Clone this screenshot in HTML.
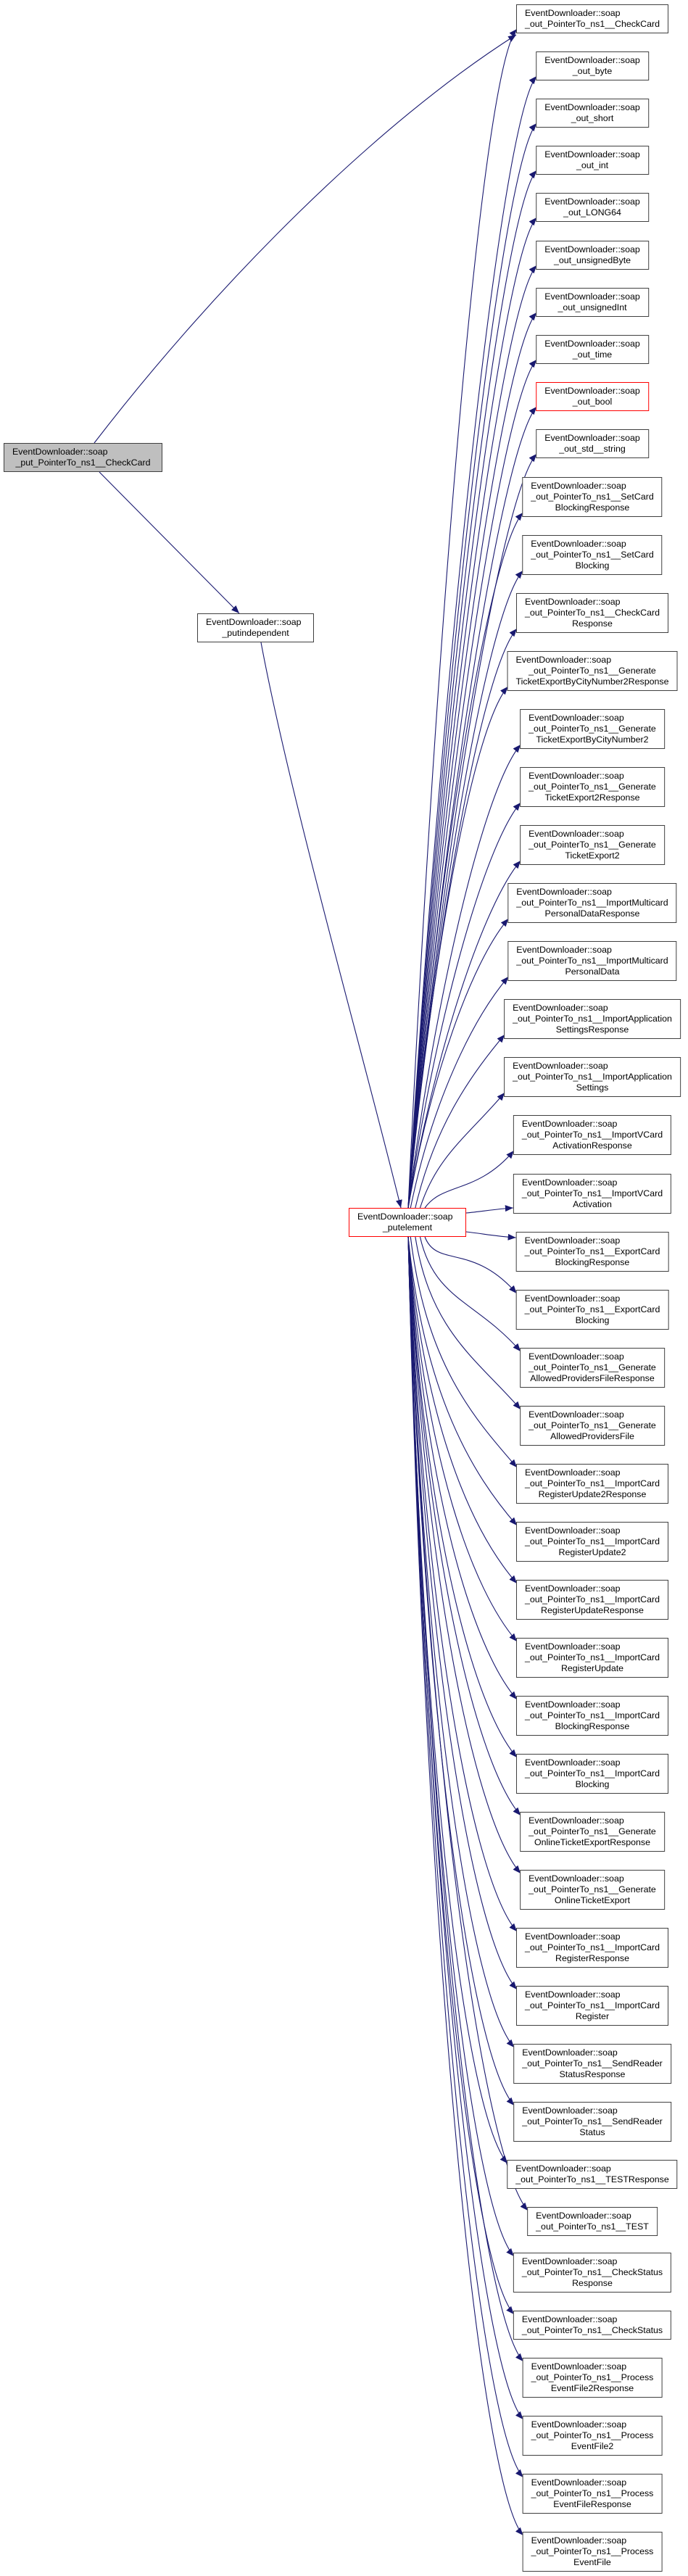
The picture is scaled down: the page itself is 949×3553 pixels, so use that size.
<!DOCTYPE html>
<html><head><meta charset="utf-8">
<style>
html,body{margin:0;padding:0;background:#fff;}
body{width:949px;height:3553px;position:relative;overflow:hidden;font-family:"Liberation Sans",Arial,sans-serif;}
.n{position:absolute;box-sizing:border-box;border:1px solid #404040;background:#fff;font-size:12.4px;line-height:15px;padding:4px 11px;text-align:center;white-space:nowrap;color:#000;display:inline-block;}
.n span{display:block;}
.n span.l{text-align:left;}
.r{left:817px;transform:translateX(-50%);}
.h2{height:40px;}.h3{height:55px;}
.red{border-color:#ff0000;}
.gray{background:#bfbfbf;}
svg{position:absolute;left:0;top:0;}
</style></head><body>
<svg id="sv" width="949" height="3553" viewBox="0 0 949 3553">
<defs><marker id="ar" markerUnits="userSpaceOnUse" markerWidth="12" markerHeight="10" refX="11" refY="4.5" orient="auto"><path d="M0,0 L11,4.5 L0,9 Z" fill="#191970"/></marker></defs>
<g id="eg" fill="none" stroke="#191970" stroke-width="1.1"></g>
</svg>

<div class="n gray h2" id="src" style="left:5px;top:611px;width:219px"><span class="l">EventDownloader::soap</span><span>_put_PointerTo_ns1__CheckCard</span></div>
<div class="n h2" id="pi" style="left:272px;top:846px;width:161px"><span class="l">EventDownloader::soap</span><span>_putindependent</span></div>
<div class="n h2 red" id="pe" style="left:481px;top:1666px;width:162px"><span class="l">EventDownloader::soap</span><span>_putelement</span></div>

<div class="n r h2 t" style="top:6px"><span class="l">EventDownloader::soap</span><span>_out_PointerTo_ns1__CheckCard</span></div>
<div class="n r h2 t" style="top:71px"><span class="l">EventDownloader::soap</span><span>_out_byte</span></div>
<div class="n r h2 t" style="top:136px"><span class="l">EventDownloader::soap</span><span>_out_short</span></div>
<div class="n r h2 t" style="top:201px"><span class="l">EventDownloader::soap</span><span>_out_int</span></div>
<div class="n r h2 t" style="top:266px"><span class="l">EventDownloader::soap</span><span>_out_LONG64</span></div>
<div class="n r h2 t" style="top:332px"><span class="l">EventDownloader::soap</span><span>_out_unsignedByte</span></div>
<div class="n r h2 t" style="top:397px"><span class="l">EventDownloader::soap</span><span>_out_unsignedInt</span></div>
<div class="n r h2 t" style="top:462px"><span class="l">EventDownloader::soap</span><span>_out_time</span></div>
<div class="n r h2 t red" style="top:527px"><span class="l">EventDownloader::soap</span><span>_out_bool</span></div>
<div class="n r h2 t" style="top:592px"><span class="l">EventDownloader::soap</span><span>_out_std__string</span></div>
<div class="n r h3 t" style="top:658px"><span class="l">EventDownloader::soap</span><span>_out_PointerTo_ns1__SetCard</span><span>BlockingResponse</span></div>
<div class="n r h3 t" style="top:738px"><span class="l">EventDownloader::soap</span><span>_out_PointerTo_ns1__SetCard</span><span>Blocking</span></div>
<div class="n r h3 t" style="top:818px"><span class="l">EventDownloader::soap</span><span>_out_PointerTo_ns1__CheckCard</span><span>Response</span></div>
<div class="n r h3 t" style="top:898px"><span class="l">EventDownloader::soap</span><span>_out_PointerTo_ns1__Generate</span><span>TicketExportByCityNumber2Response</span></div>
<div class="n r h3 t" style="top:978px"><span class="l">EventDownloader::soap</span><span>_out_PointerTo_ns1__Generate</span><span>TicketExportByCityNumber2</span></div>
<div class="n r h3 t" style="top:1058px"><span class="l">EventDownloader::soap</span><span>_out_PointerTo_ns1__Generate</span><span>TicketExport2Response</span></div>
<div class="n r h3 t" style="top:1138px"><span class="l">EventDownloader::soap</span><span>_out_PointerTo_ns1__Generate</span><span>TicketExport2</span></div>
<div class="n r h3 t" style="top:1218px"><span class="l">EventDownloader::soap</span><span>_out_PointerTo_ns1__ImportMulticard</span><span>PersonalDataResponse</span></div>
<div class="n r h3 t" style="top:1298px"><span class="l">EventDownloader::soap</span><span>_out_PointerTo_ns1__ImportMulticard</span><span>PersonalData</span></div>
<div class="n r h3 t" style="top:1378px"><span class="l">EventDownloader::soap</span><span>_out_PointerTo_ns1__ImportApplication</span><span>SettingsResponse</span></div>
<div class="n r h3 t" style="top:1458px"><span class="l">EventDownloader::soap</span><span>_out_PointerTo_ns1__ImportApplication</span><span>Settings</span></div>
<div class="n r h3 t" style="top:1538px"><span class="l">EventDownloader::soap</span><span>_out_PointerTo_ns1__ImportVCard</span><span>ActivationResponse</span></div>
<div class="n r h3 t" style="top:1619px"><span class="l">EventDownloader::soap</span><span>_out_PointerTo_ns1__ImportVCard</span><span>Activation</span></div>
<div class="n r h3 t" style="top:1699px"><span class="l">EventDownloader::soap</span><span>_out_PointerTo_ns1__ExportCard</span><span>BlockingResponse</span></div>
<div class="n r h3 t" style="top:1779px"><span class="l">EventDownloader::soap</span><span>_out_PointerTo_ns1__ExportCard</span><span>Blocking</span></div>
<div class="n r h3 t" style="top:1859px"><span class="l">EventDownloader::soap</span><span>_out_PointerTo_ns1__Generate</span><span>AllowedProvidersFileResponse</span></div>
<div class="n r h3 t" style="top:1939px"><span class="l">EventDownloader::soap</span><span>_out_PointerTo_ns1__Generate</span><span>AllowedProvidersFile</span></div>
<div class="n r h3 t" style="top:2019px"><span class="l">EventDownloader::soap</span><span>_out_PointerTo_ns1__ImportCard</span><span>RegisterUpdate2Response</span></div>
<div class="n r h3 t" style="top:2099px"><span class="l">EventDownloader::soap</span><span>_out_PointerTo_ns1__ImportCard</span><span>RegisterUpdate2</span></div>
<div class="n r h3 t" style="top:2179px"><span class="l">EventDownloader::soap</span><span>_out_PointerTo_ns1__ImportCard</span><span>RegisterUpdateResponse</span></div>
<div class="n r h3 t" style="top:2259px"><span class="l">EventDownloader::soap</span><span>_out_PointerTo_ns1__ImportCard</span><span>RegisterUpdate</span></div>
<div class="n r h3 t" style="top:2339px"><span class="l">EventDownloader::soap</span><span>_out_PointerTo_ns1__ImportCard</span><span>BlockingResponse</span></div>
<div class="n r h3 t" style="top:2419px"><span class="l">EventDownloader::soap</span><span>_out_PointerTo_ns1__ImportCard</span><span>Blocking</span></div>
<div class="n r h3 t" style="top:2499px"><span class="l">EventDownloader::soap</span><span>_out_PointerTo_ns1__Generate</span><span>OnlineTicketExportResponse</span></div>
<div class="n r h3 t" style="top:2579px"><span class="l">EventDownloader::soap</span><span>_out_PointerTo_ns1__Generate</span><span>OnlineTicketExport</span></div>
<div class="n r h3 t" style="top:2659px"><span class="l">EventDownloader::soap</span><span>_out_PointerTo_ns1__ImportCard</span><span>RegisterResponse</span></div>
<div class="n r h3 t" style="top:2739px"><span class="l">EventDownloader::soap</span><span>_out_PointerTo_ns1__ImportCard</span><span>Register</span></div>
<div class="n r h3 t" style="top:2819px"><span class="l">EventDownloader::soap</span><span>_out_PointerTo_ns1__SendReader</span><span>StatusResponse</span></div>
<div class="n r h3 t" style="top:2899px"><span class="l">EventDownloader::soap</span><span>_out_PointerTo_ns1__SendReader</span><span>Status</span></div>
<div class="n r h2 t" style="top:2979px"><span class="l">EventDownloader::soap</span><span>_out_PointerTo_ns1__TESTResponse</span></div>
<div class="n r h2 t" style="top:3044px"><span class="l">EventDownloader::soap</span><span>_out_PointerTo_ns1__TEST</span></div>
<div class="n r h3 t" style="top:3107px"><span class="l">EventDownloader::soap</span><span>_out_PointerTo_ns1__CheckStatus</span><span>Response</span></div>
<div class="n r h2 t" style="top:3187px"><span class="l">EventDownloader::soap</span><span>_out_PointerTo_ns1__CheckStatus</span></div>
<div class="n r h3 t" style="top:3252px"><span class="l">EventDownloader::soap</span><span>_out_PointerTo_ns1__Process</span><span>EventFile2Response</span></div>
<div class="n r h3 t" style="top:3332px"><span class="l">EventDownloader::soap</span><span>_out_PointerTo_ns1__Process</span><span>EventFile2</span></div>
<div class="n r h3 t" style="top:3412px"><span class="l">EventDownloader::soap</span><span>_out_PointerTo_ns1__Process</span><span>EventFileResponse</span></div>
<div class="n r h3 t" style="top:3492px"><span class="l">EventDownloader::soap</span><span>_out_PointerTo_ns1__Process</span><span>EventFile</span></div>

<script>
(function(){
var g=document.getElementById('eg');
function add(d){var p=document.createElementNS('http://www.w3.org/2000/svg','path');p.setAttribute('d',d);p.setAttribute('marker-end','url(#ar)');g.appendChild(p);}
add('M130,611 C300,390 520,170 712,48');
add('M137,651 C200,715 270,785 330,846');
add('M360,886 C400,1100 500,1450 553,1666');
var nodes=document.querySelectorAll('.t');
var peTop=1666,peBot=1706,peMid=1686;
for(var i=0;i<nodes.length;i++){
 var r=nodes[i].getBoundingClientRect();
 var tx=r.left, top=r.top, h=r.height, cy=top+h/2;
 var d;
 if(Math.abs(cy-peMid)<45){
   var ty=(cy<peMid)?top+h-8:top+8;
   var sy=(cy<peMid)?1673:1699;
   add('M643,'+sy+' C665,'+(sy+(ty-sy)*0.3)+' 685,'+(sy+(ty-sy)*0.8)+' '+tx+','+ty);
   continue;
 }
 var dist=Math.abs(cy-peMid);
 var close=Math.max(0,1-dist/400);
 var sx=563+33*close;
 if(cy<peMid){
   var ty=top+h-6;
   var sy=peTop;
   var cp2x=tx-50, cp2y=ty+60;
   var cp1x=sx+(cp2x-sx)*0.35, cp1y=sy-(sy-ty)*0.45;
   d='M'+sx+','+sy+' C'+cp1x+','+cp1y+' '+cp2x+','+cp2y+' '+(tx+1)+','+ty;
 }else{
   var ty=top+5;
   var sy=peBot;
   var cp2x=tx-60, cp2y=ty-70;
   var cp1x=sx+(cp2x-sx)*0.25, cp1y=sy+(ty-sy)*0.55;
   d='M'+sx+','+sy+' C'+cp1x+','+cp1y+' '+cp2x+','+cp2y+' '+(tx+1)+','+ty;
 }
 add(d);
}
})();
</script>
</body></html>
